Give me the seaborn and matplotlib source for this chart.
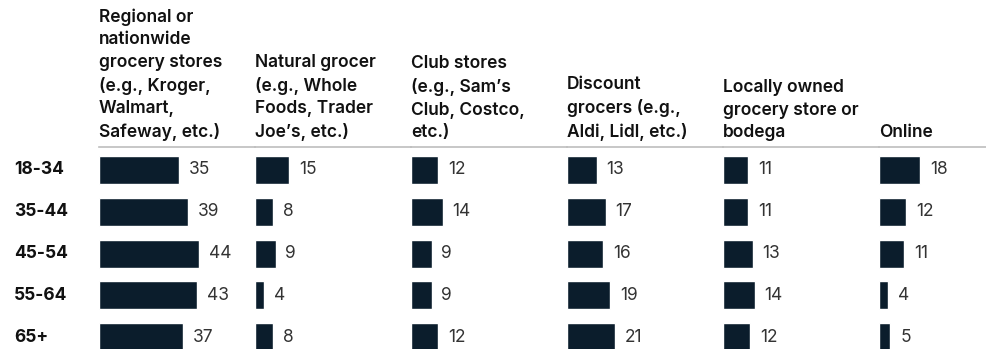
import matplotlib
matplotlib.use("Agg")
import matplotlib.pyplot as plt
import matplotlib.transforms as mtransforms
import pandas as pd
import seaborn as sns

# Shopping channel by age group (% of respondents)
age_groups = ["18-34", "35-44", "45-54", "55-64", "65+"]
channels = [
    "Regional or\nnationwide\ngrocery stores\n(e.g., Kroger,\nWalmart,\nSafeway, etc.)",
    "Natural grocer\n(e.g., Whole\nFoods, Trader\nJoe\u2019s, etc.)",
    "Club stores\n(e.g., Sam\u2019s\nClub, Costco,\netc.)",
    "Discount\ngrocers (e.g.,\nAldi, Lidl, etc.)",
    "Locally owned\ngrocery store or\nbodega",
    "Online",
]
regional = [35, 39, 44, 43, 37]
natural = [15, 8, 9, 4, 8]
club = [12, 14, 9, 9, 12]
discount = [13, 17, 16, 19, 21]
local = [11, 11, 13, 14, 12]
online = [18, 12, 11, 4, 5]
series = [regional, natural, club, discount, local, online]

sns.set_theme(style="white")
plt.rcParams["font.family"] = ["Inter", "DejaVu Sans"]

BAR = "#0b1d2c"
W, H = 987, 349
fig = plt.figure(figsize=(W / 100, H / 100), dpi=100)

px_per_unit = 2.28
col_x0 = 99
col_w = 156
line_y = 147
row_c0, row_step = 170, 41.8

y_top = -(row_c0 - line_y) / row_step
y_bot = (H - row_c0) / row_step

axes = []
for i, (name, vals) in enumerate(zip(channels, series)):
    left = col_x0 + i * col_w
    width = min(col_w, W - left)
    ax = fig.add_axes([left / W, 0, width / W, (H - line_y) / H])
    df = pd.DataFrame({"age": age_groups, "share": vals})
    sns.barplot(data=df, x="share", y="age", orient="h", color=BAR,
                saturation=1, width=0.67, ax=ax)
    ax.set_xlim(0, width / px_per_unit)
    ax.set_ylim(y_bot, y_top)
    ax.bar_label(ax.containers[0], padding=7, fontsize=12.5,
                 color="#333333")
    ax.set_xlabel("")
    ax.set_ylabel("")
    ax.set_xticks([])
    ax.set_yticks([])
    for s in ["left", "right", "bottom"]:
        ax.spines[s].set_visible(False)
    ax.spines["top"].set_color("#bdbdbd")
    ax.spines["top"].set_linewidth(1.2)
    ax.patch.set_alpha(0)
    fig.text(left / W, 1 - 137 / H, name, ha="left", va="baseline",
             fontsize=12.5, fontweight="semibold", color="#111111",
             linespacing=1.42)
    axes.append(ax)

ax0 = axes[0]
trans = mtransforms.blended_transform_factory(fig.transFigure, ax0.transData)
for j, g in enumerate(age_groups):
    ax0.text(14 / W, j, g, transform=trans, ha="left", va="center",
             fontsize=12.5, fontweight="bold", color="#111111")

fig.savefig("out.png", dpi=100)
